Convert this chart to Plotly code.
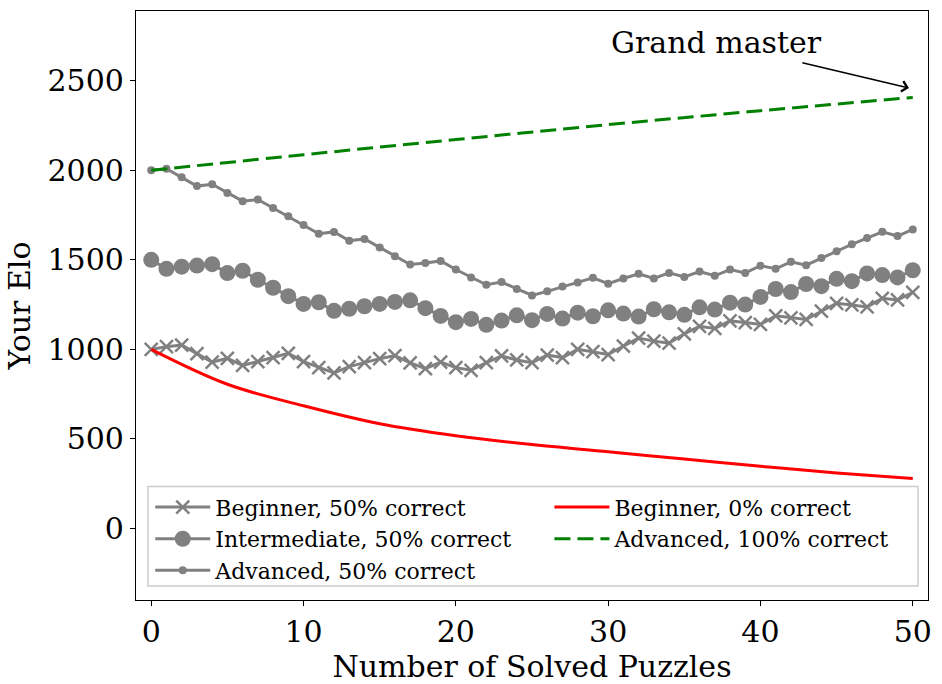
import plotly.graph_objects as go

puzzles = list(range(51))

beginner_50 = [1000, 1015, 1024, 976, 929, 950, 911, 932, 954, 978,
               932, 898, 868, 904, 926, 948, 965, 924, 893, 929,
               898, 883, 926, 963, 941, 926, 968, 954, 1000, 987,
               971, 1018, 1063, 1046, 1035, 1087, 1129, 1117, 1159, 1150,
               1139, 1187, 1176, 1167, 1213, 1257, 1248, 1237, 1285, 1276, 1318]

intermediate_50 = [1500, 1450, 1462, 1468, 1476, 1426, 1439, 1389, 1344, 1297,
                   1254, 1263, 1215, 1227, 1241, 1254, 1265, 1274, 1230, 1187,
                   1152, 1170, 1137, 1161, 1190, 1163, 1198, 1172, 1205, 1185,
                   1218, 1200, 1183, 1224, 1207, 1193, 1235, 1222, 1261, 1250,
                   1293, 1337, 1320, 1365, 1353, 1394, 1381, 1424, 1415, 1402, 1442]

advanced_50 = [2000, 2009, 1961, 1912, 1922, 1874, 1828, 1837, 1789, 1743,
               1694, 1646, 1656, 1607, 1617, 1569, 1520, 1474, 1483, 1494,
               1446, 1402, 1361, 1376, 1337, 1301, 1324, 1351, 1374, 1400,
               1367, 1396, 1422, 1396, 1427, 1404, 1435, 1411, 1446, 1427,
               1467, 1450, 1489, 1470, 1511, 1548, 1587, 1622, 1657, 1633, 1670]

beginner_0_x = [0, 5, 10, 15, 20, 25, 30, 35, 40, 45, 50]
beginner_0 = [1000, 805, 685, 585, 518, 468, 428, 387, 347, 310, 278]

advanced_100_x = [0, 10, 20, 30, 40, 50]
advanced_100 = [2000, 2087, 2172, 2255, 2333, 2407]

x_ticks = [0, 10, 20, 30, 40, 50]
y_ticks = [0, 500, 1000, 1500, 2000, 2500]

FONT = "DejaVu Serif"
GREY = "#808080"

fig = go.Figure()

fig.add_trace(go.Scatter(
    x=puzzles, y=beginner_50, mode="lines+markers",
    name="Beginner, 50% correct", legend="legend", legendrank=1,
    line=dict(color=GREY, width=3),
    marker=dict(symbol="x-thin", size=13, color=GREY, line=dict(color=GREY, width=2.5)),
))
fig.add_trace(go.Scatter(
    x=puzzles, y=intermediate_50, mode="lines+markers",
    name="Intermediate, 50% correct", legend="legend", legendrank=2,
    line=dict(color=GREY, width=3),
    marker=dict(symbol="circle", size=16, color=GREY),
))
fig.add_trace(go.Scatter(
    x=puzzles, y=advanced_50, mode="lines+markers",
    name="Advanced, 50% correct", legend="legend", legendrank=3,
    line=dict(color=GREY, width=3),
    marker=dict(symbol="circle", size=8, color=GREY),
))
fig.add_trace(go.Scatter(
    x=beginner_0_x, y=beginner_0, mode="lines",
    name="Beginner, 0% correct", legend="legend2", legendrank=1,
    line=dict(color="#ff0000", width=3, shape="spline"),
))
fig.add_trace(go.Scatter(
    x=advanced_100_x, y=advanced_100, mode="lines",
    name="Advanced, 100% correct", legend="legend2", legendrank=2,
    line=dict(color="#008000", width=3, dash="16px,7px", shape="spline"),
))

fig.add_annotation(
    x=49.75, y=2460, xref="x", yref="y",
    ax=37.1, ay=2715, axref="x", ayref="y",
    text="Grand master", showarrow=True,
    arrowhead=4, arrowsize=1.3, arrowwidth=1.6, arrowcolor="black",
    startstandoff=6,
    font=dict(family=FONT, size=30, color="black"),
)

# legend frame (shared by both legend columns)
fig.add_shape(
    type="rect", xref="paper", yref="paper",
    x0=0.0151, x1=0.9874, y0=0.0236, y1=0.1926,
    line=dict(color="#cccccc", width=1.5),
    fillcolor="rgba(255,255,255,0.8)", layer="above",
)

axis_common = dict(
    showgrid=False, zeroline=False,
    showline=True, linecolor="black", linewidth=1.2, mirror=True,
    ticks="outside", ticklen=5, tickwidth=1.2, tickcolor="black",
    tickfont=dict(family=FONT, size=30, color="black"),
)

legend_common = dict(
    orientation="v", xanchor="left", yanchor="top",
    font=dict(family=FONT, size=22, color="black"),
    bgcolor="rgba(0,0,0,0)", borderwidth=0,
    tracegroupgap=0, itemwidth=55,
)

fig.update_layout(
    width=942, height=684,
    margin=dict(l=136, r=10, t=10, b=82),
    paper_bgcolor="white", plot_bgcolor="white",
    showlegend=True,
    legend=dict(x=0.018, y=0.193, **legend_common),
    legend2=dict(x=0.522, y=0.193, **legend_common),
    xaxis=dict(
        range=[-1, 51], tickvals=x_ticks,
        title=dict(text="Number of Solved Puzzles", font=dict(family=FONT, size=30, color="black"), standoff=4),
        **axis_common,
    ),
    yaxis=dict(
        range=[-400, 2890], tickvals=y_ticks,
        title=dict(text="Your Elo", font=dict(family=FONT, size=30, color="black"), standoff=8),
        **axis_common,
    ),
)

fig.write_html("out.html", config={"displayModeBar": False},
               post_script="document.body.style.margin='0';")
